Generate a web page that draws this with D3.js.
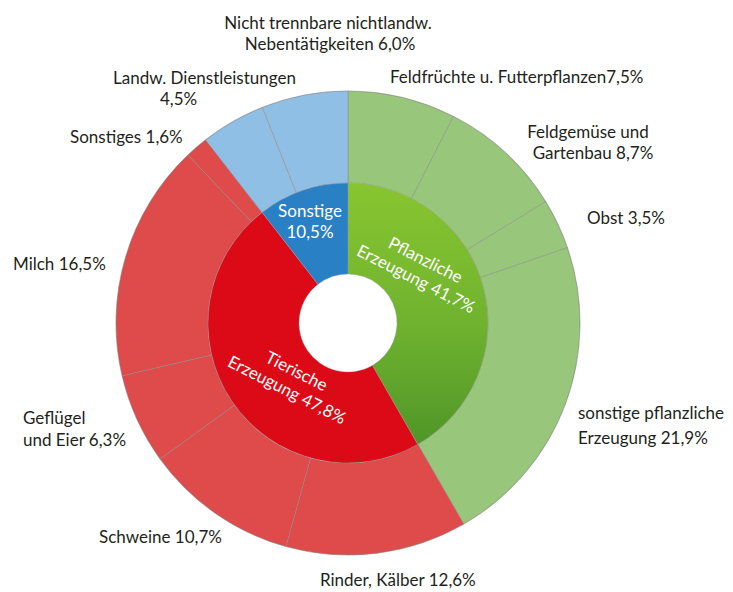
<!DOCTYPE html>
<html>
<head>
<meta charset="utf-8">
<script src="https://cdn.jsdelivr.net/npm/d3@7"></script>
<style>
  body { margin: 0; background: #fff; }
  text { font-family: Lato, "Open Sans", sans-serif; }
</style>
</head>
<body>
<div id="chart"></div>
<script>
// --data--
const groups = ["Pflanzliche\nErzeugung", "Tierische\nErzeugung", "Sonstige\n"];
const groupValues = [41.7, 47.8, 10.5];

const subNames = [
  "Feldfrüchte u. Futterpflanzen",
  "Feldgemüse und\nGartenbau ",
  "Obst ",
  "sonstige pflanzliche\nErzeugung ",
  "Rinder, Kälber ",
  "Schweine ",
  "Geflügel\nund Eier ",
  "Milch ",
  "Sonstiges ",
  "Landw. Dienstleistungen\n",
  "Nicht trennbare nichtlandw.\nNebentätigkeiten "
];
const subValues = [7.5, 8.7, 3.5, 21.9, 12.6, 10.7, 6.3, 16.5, 1.6, 4.5, 6.0];
const subGroup = [0, 0, 0, 0, 1, 1, 1, 1, 1, 2, 2];

// --layout--
const W = 733, H = 592;
const cx = 348, cy = 323;
const r0 = 49, r1 = 140, r2 = 232;
const fontSize = 17;

// label placement per outer slice: [anchor, [[x,y] per line]]
const subLabelPos = [
  ["start",  [[390, 77]]],
  ["middle", [[588, 132], [593, 153]]],
  ["start",  [[587, 218]]],
  ["start",  [[578, 413], [578, 438]]],
  ["start",  [[320, 580]]],
  ["start",  [[99, 537]]],
  ["start",  [[23, 418], [23, 440]]],
  ["start",  [[13, 264]]],
  ["start",  [[70, 137]]],
  ["start",  [[113, 78], [160, 99]]],
  ["middle", [[328, 23], [330, 44]]]
];
// inner labels: block center and rotation
const groupLabelPos = [
  {x: 421, y: 269, rot: 27},
  {x: 292, y: 380, rot: 27},
  {x: 310, y: 221, rot: 0}
];

const fmt = v => d3.format(".1f")(v).replace(".", ",") + "%";

const svg = d3.select("#chart").append("svg")
  .attr("width", W)
  .attr("height", H);

const defs = svg.append("defs");

// inner green: light at top, dark at bottom
const gGreen = defs.append("linearGradient")
  .attr("id", "innerGreen").attr("x1", 0).attr("y1", 0).attr("x2", 0).attr("y2", 1);
gGreen.append("stop").attr("offset", "0%").attr("stop-color", "#88c52f");
gGreen.append("stop").attr("offset", "55%").attr("stop-color", "#6fb22f");
gGreen.append("stop").attr("offset", "100%").attr("stop-color", "#509628");

const gRed = defs.append("radialGradient")
  .attr("id", "innerRed").attr("gradientUnits", "userSpaceOnUse")
  .attr("cx", cx).attr("cy", cy).attr("r", r1);
gRed.append("stop").attr("offset", "35%").attr("stop-color", "#e60014");
gRed.append("stop").attr("offset", "93%").attr("stop-color", "#e90012");
gRed.append("stop").attr("offset", "100%").attr("stop-color", "#dc0a16");

const gBlue = defs.append("radialGradient")
  .attr("id", "innerBlue").attr("gradientUnits", "userSpaceOnUse")
  .attr("cx", cx).attr("cy", cy).attr("r", r1);
gBlue.append("stop").attr("offset", "35%").attr("stop-color", "#2f88cf");
gBlue.append("stop").attr("offset", "93%").attr("stop-color", "#308ed6");
gBlue.append("stop").attr("offset", "100%").attr("stop-color", "#2980c4");

function ringGradient(id, edge, mid, outer) {
  const g = defs.append("radialGradient")
    .attr("id", id).attr("gradientUnits", "userSpaceOnUse")
    .attr("cx", cx).attr("cy", cy).attr("r", r2);
  g.append("stop").attr("offset", r1 / r2).attr("stop-color", edge);
  g.append("stop").attr("offset", 0.8).attr("stop-color", mid);
  g.append("stop").attr("offset", 0.95).attr("stop-color", mid);
  g.append("stop").attr("offset", 1).attr("stop-color", outer);
}
ringGradient("outerGreen", "#a0cd83", "#b2d998", "#98c67a");
ringGradient("outerRed", "#e65050", "#eb5a5a", "#df4a4a");
ringGradient("outerBlue", "#94c3e9", "#a2cbee", "#90bfe5");

const innerFill = ["url(#innerGreen)", "url(#innerRed)", "url(#innerBlue)"];
const outerFill = ["url(#outerGreen)", "url(#outerRed)", "url(#outerBlue)"];

const pie = d3.pie().sort(null).value(d => d);

const innerArc = d3.arc().innerRadius(r0).outerRadius(r1);
const outerArc = d3.arc().innerRadius(r1).outerRadius(r2);

const g = svg.append("g").attr("transform", `translate(${cx},${cy})`);

// outer ring
g.selectAll(".outer")
  .data(pie(subValues))
  .join("path")
  .attr("class", "outer")
  .attr("d", outerArc)
  .attr("fill", (d, i) => outerFill[subGroup[i]])
  .attr("stroke", "#8a8a8a")
  .attr("stroke-opacity", 0.6)
  .attr("stroke-width", 0.8);

// inner ring
g.selectAll(".inner")
  .data(pie(groupValues))
  .join("path")
  .attr("class", "inner")
  .attr("d", innerArc)
  .attr("fill", (d, i) => innerFill[i])
  .attr("stroke", "#9a9a9a")
  .attr("stroke-opacity", 0.5)
  .attr("stroke-width", 0.8);

// soft rim round the whole donut
g.append("circle")
  .attr("r", r2)
  .attr("fill", "none")
  .attr("stroke", "#6f6f6f")
  .attr("stroke-opacity", 0.2)
  .attr("stroke-width", 1.2);

// --labels--
function addLines(sel, text, pos, anchor, fill) {
  const lines = text.split("\n");
  lines.forEach((line, k) => {
    const p = pos[Math.min(k, pos.length - 1)];
    sel.append("text")
      .attr("x", p[0])
      .attr("y", p[1])
      .attr("dy", "0.35em")
      .attr("text-anchor", anchor)
      .attr("font-size", fontSize)
      .attr("fill", fill)
      .text(line);
  });
}

const labels = svg.append("g");
subNames.forEach((name, i) => {
  const [anchor, pos] = subLabelPos[i];
  addLines(labels, name + fmt(subValues[i]), pos, anchor, "#231f20");
});

groups.forEach((name, i) => {
  const lp = groupLabelPos[i];
  const gl = svg.append("g")
    .attr("transform", `translate(${lp.x},${lp.y}) rotate(${lp.rot})`);
  const parts = name.split("\n");
  const lines = parts[1] ? [parts[0], parts[1] + " " + fmt(groupValues[i])] : [parts[0], fmt(groupValues[i])];
  addLines(gl, lines.join("\n"), [[0, -10], [0, 11]], "middle", "#fff");
});
</script>
</body>
</html>
